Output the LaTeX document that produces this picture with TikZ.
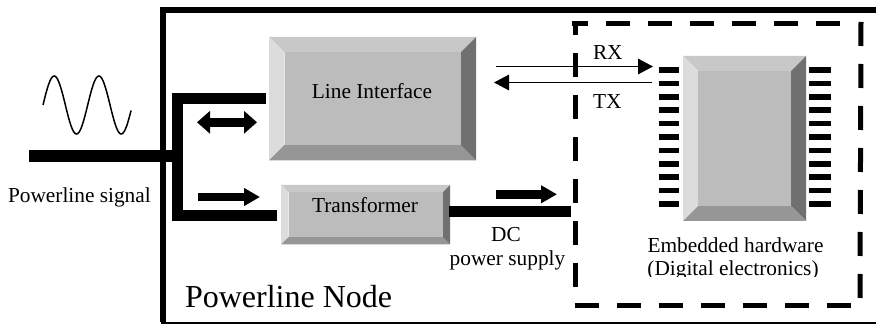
\documentclass[tikz,border=0pt]{standalone}
\usepackage{fontspec}
\setmainfont{Liberation Serif}
\usetikzlibrary{arrows.meta,calc}
\def\px{0.75pt}
\newcommand{\bevelbox}[2]{%
  \fill[bevtop] (#1.north west) -- (#1.north east) -- ([shift={(-#2,#2)}]#1.north east) -- ([shift={(#2,#2)}]#1.north west) -- cycle;
  \fill[bevleft] (#1.north west) -- (#1.south west) -- ([shift={(#2,-#2)}]#1.south west) -- ([shift={(#2,#2)}]#1.north west) -- cycle;
  \fill[bevright] (#1.north east) -- (#1.south east) -- ([shift={(-#2,-#2)}]#1.south east) -- ([shift={(-#2,#2)}]#1.north east) -- cycle;
  \fill[bevbot] (#1.south west) -- (#1.south east) -- ([shift={(-#2,-#2)}]#1.south east) -- ([shift={(#2,-#2)}]#1.south west) -- cycle;
  \fill[bevmid] ([shift={(#2,#2)}]#1.north west) rectangle ([shift={(-#2,-#2)}]#1.south east);
}
\tikzset{
  x=0.75pt,y=-0.75pt,
  bevtop/.style={fill={rgb,255:red,200;green,200;blue,200}},
  bevleft/.style={fill={rgb,255:red,220;green,220;blue,220}},
  bevright/.style={fill={rgb,255:red,112;green,112;blue,112}},
  bevbot/.style={fill={rgb,255:red,150;green,150;blue,150}},
  bevmid/.style={fill={rgb,255:red,188;green,188;blue,188}},
  boxnode/.style={rectangle,inner sep=0pt,outer sep=0pt},
  label/.style={inner sep=0pt,outer sep=0pt,anchor=base,font=\fontsize{16}{18}\selectfont},
  power/.style={line width=11.5*\px,line cap=butt,miter limit=10},
  bigdir/.style={line width=8.5*\px,-{Triangle[length=16*\px,width=17*\px]}},
  bigboth/.style={line width=9*\px,{Triangle[length=13*\px,width=22*\px]}-{Triangle[length=13*\px,width=22*\px]}},
  signalline/.style={line width=1.5*\px,-{Triangle[length=15*\px,width=15.5*\px]}},
  frameline/.style={line width=5.5*\px},
  dashline/.style={line width=5*\px,dash pattern=on 24*\px off 18*\px},
  pin/.style={line width=5.5*\px},
  wave/.style={line width=1.5*\px}
}
\begin{document}
\begin{tikzpicture}
\useasboundingbox (0,0) rectangle (876,324);
\clip (0,0) rectangle (876,324);
% outer frame
\draw[frameline] (876,10) -- (162.75,10) -- (162.75,322);
\draw[line width=1.5*\px] (161,322.8) -- (876,322.8);
% boxes
\node[boxnode,minimum width=207*\px,minimum height=123.5*\px] (li) at (372.5,98.75) {};
\node[boxnode,minimum width=169*\px,minimum height=59.5*\px] (tr) at (365.5,214.75) {};
\node[boxnode,minimum width=123*\px,minimum height=165*\px] (chip) at (744.5,138.5) {};
\bevelbox{li}{15.5}
\bevelbox{tr}{7.5}
\bevelbox{chip}{15}
% powerline connectors
\coordinate (sig) at (29,156.2);
\coordinate (trunk) at (177.5,156.2);
\coordinate (dcend) at (571,211.75);
\coordinate (liend) at ([xshift=-2]li.west);
\coordinate (trend) at ($(tr.west)+(-4,0.75)$);
\draw[power] (sig) -- (trunk);
\draw[power] (liend) -| (trunk) |- (trend);
\draw[power] ($(tr.east)+(-1,-3)$) -- (dcend);
% big arrows
\coordinate (d1) at (197,122.3); \coordinate (d2) at (257,122.3);
\draw[bigboth] (d1) -- (d2);
\coordinate (a1) at (198,197); \coordinate (a2) at (260,197);
\draw[bigdir] (a1) -- (a2);
\coordinate (b1) at (495.5,194.3); \coordinate (b2) at (557,194.3);
\draw[bigdir] (b1) -- (b2);
% dashed block
\draw[dashline,dash phase=8*\px] (572,24) -- (840,24);
\draw[dashline] (861,22) -- (860,300);
\draw[dashline,dash phase=11*\px] (575,22.5) -- (575,288);
\draw[dashline] (575,306) -- (851,306);
% RX TX
\coordinate (rx1) at (496,66.5); \coordinate (rx2) at (653,66.5);
\coordinate (tx1) at (651.5,82.5); \coordinate (tx2) at (494,82.5);
\draw[signalline] (rx1) -- (rx2);
\draw[signalline] (tx1) -- (tx2);
% pins
\foreach \y in {70,83.5,97,110,123.5,137,150.5,164,177,190.5,204}{
  \draw[pin] (658.5,\y) -- (679,\y);
  \draw[pin] (809,\y) -- (830.5,\y);
}
% sine
\draw[wave] plot[smooth,samples=80,domain=0:1.97] ({43+\x*44.7},{105-29*sin(\x*360)});
% labels
\node[label,anchor=base west] (ps) at (8,203) {Powerline signal};
\node[label] (lit) at (372,99) {Line Interface};
\node[label] (trt) at (365,213) {Transformer};
\node[label] (dc) at (506,241.5) {DC};
\node[label] (pow) at (507.5,265.7) {power supply};
\node[label,anchor=base west,font=\fontsize{24}{28}\selectfont] (pn) at (185,308) {Powerline Node};
\node[label,anchor=base west] (rxt) at (593,60) {RX};
\node[label,anchor=base west] (txt) at (593,109) {TX};
\node[label] (emb) at (735.5,253) {Embedded hardware};
\begin{scope}
\clip (640,255) rectangle (830,277);
\node[label] (dig) at (733,276) {(Digital electronics)};
\end{scope}
\end{tikzpicture}
\end{document}
